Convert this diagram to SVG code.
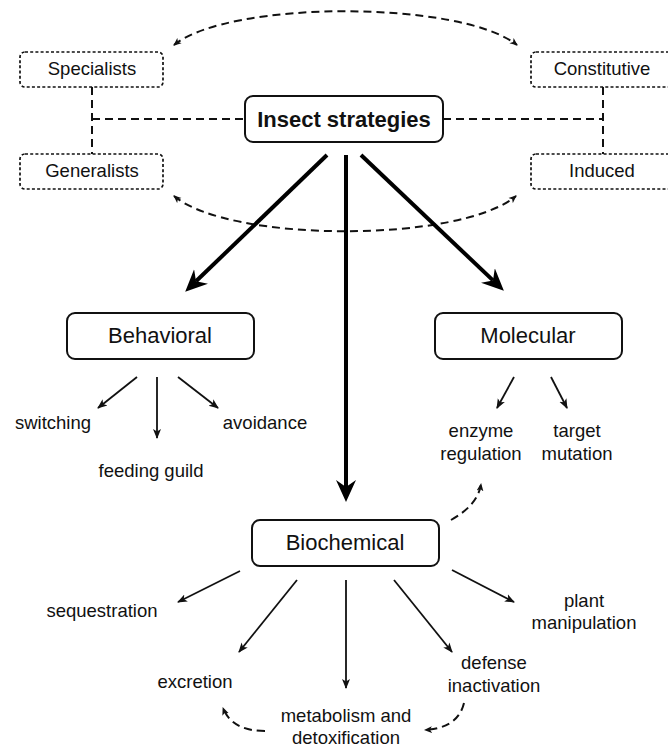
<svg xmlns="http://www.w3.org/2000/svg" width="668" height="748" viewBox="0 0 668 748">
<style>
.t{font-family:"Liberation Sans",Arial,sans-serif;fill:#111;text-anchor:middle}
.s{font-size:18.5px}
.b{font-size:22px}
.dot{fill:#fff;stroke:#111;stroke-width:1.7;stroke-dasharray:3,2.2}
.box{fill:#fff;stroke:#111;stroke-width:2}
.dash{fill:none;stroke:#111;stroke-width:2;stroke-dasharray:8,5}
.thick{fill:none;stroke:#000;stroke-width:4}
.thin{fill:none;stroke:#111;stroke-width:1.8}
</style>
<defs>
<marker id="big" viewBox="0 0 22 22" refX="7" refY="11" markerWidth="22" markerHeight="22" markerUnits="userSpaceOnUse" orient="auto">
<path d="M0,1 L22,11 L0,21 L7,11 Z" fill="#000"/>
</marker>
<marker id="sm" viewBox="0 0 10 10" refX="9" refY="5" markerWidth="10" markerHeight="10" markerUnits="userSpaceOnUse" orient="auto">
<path d="M0,1 L10,5 L0,9 L2.5,5 Z" fill="#111"/>
</marker>
<marker id="da" viewBox="0 0 8 8" refX="7" refY="4" markerWidth="8" markerHeight="8" markerUnits="userSpaceOnUse" orient="auto-start-reverse">
<path d="M0,0.6 L8,4 L0,7.4 L2,4 Z" fill="#111"/>
</marker>
</defs>
<g id="connectors">
<path class="dash" d="M92,87 V154 M92,119 H245 M443,119 H603 M603,87 V154"/>
<path class="dash" d="M174,45 C230,0 460,0 517,45" marker-start="url(#da)" marker-end="url(#da)"/>
<path class="dash" d="M174,196 C230,243 460,243 516,196" marker-start="url(#da)" marker-end="url(#da)"/>
<path class="dash" d="M451,520 Q478,505 481,484" marker-end="url(#da)"/>
<path class="dash" d="M464,703 Q458,728 425,730" marker-end="url(#da)"/>
<path class="dash" d="M265,731 Q232,731 223,708" marker-end="url(#da)"/>
<line class="thick" x1="327" y1="155" x2="196" y2="281.3" marker-end="url(#big)"/>
<line class="thick" x1="346" y1="155" x2="346" y2="487" marker-end="url(#big)"/>
<line class="thick" x1="361" y1="155" x2="493" y2="280.4" marker-end="url(#big)"/>
<line class="thin" x1="137" y1="377" x2="98" y2="408" marker-end="url(#sm)"/>
<line class="thin" x1="157" y1="377" x2="157" y2="438" marker-end="url(#sm)"/>
<line class="thin" x1="178" y1="377" x2="218" y2="408" marker-end="url(#sm)"/>
<line class="thin" x1="514" y1="377" x2="497" y2="408" marker-end="url(#sm)"/>
<line class="thin" x1="551" y1="377" x2="567" y2="408" marker-end="url(#sm)"/>
<line class="thin" x1="240" y1="571" x2="178" y2="602" marker-end="url(#sm)"/>
<line class="thin" x1="297" y1="580" x2="239" y2="652" marker-end="url(#sm)"/>
<line class="thin" x1="346" y1="580" x2="346" y2="688" marker-end="url(#sm)"/>
<line class="thin" x1="394" y1="580" x2="452" y2="652" marker-end="url(#sm)"/>
<line class="thin" x1="452" y1="570" x2="514" y2="602" marker-end="url(#sm)"/>
</g>
<g id="specialists"><rect class="dot" x="20" y="52" width="143" height="35" rx="5"/><text class="t s" x="92" y="75">Specialists</text></g>
<g id="generalists"><rect class="dot" x="20" y="154" width="143" height="35" rx="5"/><text class="t s" x="92" y="177">Generalists</text></g>
<g id="constitutive"><rect class="dot" x="531" y="52" width="143" height="35" rx="5"/><text class="t s" x="602" y="75">Constitutive</text></g>
<g id="induced"><rect class="dot" x="531" y="154" width="143" height="35" rx="5"/><text class="t s" x="602" y="177">Induced</text></g>
<g id="insect"><rect class="box" x="245" y="96" width="198" height="46" rx="8"/><text class="t b" x="344" y="127" font-weight="bold">Insect strategies</text></g>
<g id="behavioral"><rect class="box" x="67" y="313" width="187" height="46" rx="8"/><text class="t b" x="160" y="343">Behavioral</text></g>
<g id="molecular"><rect class="box" x="435" y="313" width="187" height="46" rx="8"/><text class="t b" x="528" y="343">Molecular</text></g>
<g id="biochemical"><rect class="box" x="252" y="520" width="187" height="46" rx="8"/><text class="t b" x="345" y="550">Biochemical</text></g>
<g id="switching"><text class="t s" x="53" y="429">switching</text></g>
<g id="feeding"><text class="t s" x="151" y="477">feeding guild</text></g>
<g id="avoidance"><text class="t s" x="265" y="429">avoidance</text></g>
<g id="enzyme"><text class="t s" x="481" y="437">enzyme</text><text class="t s" x="481" y="460">regulation</text></g>
<g id="target"><text class="t s" x="577" y="437">target</text><text class="t s" x="577" y="460">mutation</text></g>
<g id="sequestration"><text class="t s" x="102" y="617">sequestration</text></g>
<g id="excretion"><text class="t s" x="195" y="688">excretion</text></g>
<g id="metabolism"><text class="t s" x="346" y="722">metabolism and</text><text class="t s" x="346" y="744">detoxification</text></g>
<g id="defense"><text class="t s" x="494" y="669">defense</text><text class="t s" x="494" y="692">inactivation</text></g>
<g id="plant"><text class="t s" x="584" y="607">plant</text><text class="t s" x="584" y="629">manipulation</text></g>
</svg>
